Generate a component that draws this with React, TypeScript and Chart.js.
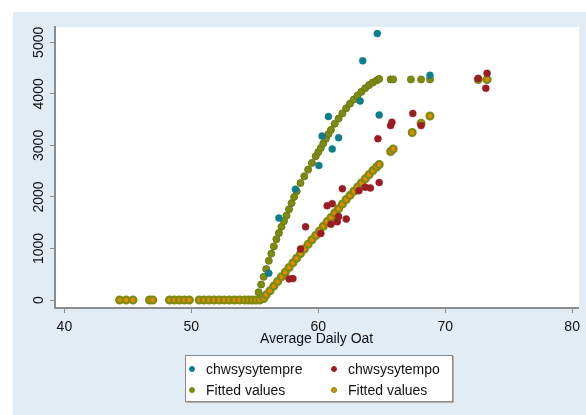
import React, { useEffect, useRef } from "react";
import { Chart, registerables } from "chart.js";

Chart.register(...registerables);

// ---- data ----
const xTicks = [40, 50, 60, 70, 80];
const yTicks = [0, 1000, 2000, 3000, 4000, 5000];
const xTitle = "Average Daily Oat";
const seriesNames = ["chwsysytempre", "chwsysytempo", "Fitted values", "Fitted values"];

// days with zero load (x values where both fitted curves are 0)
const zeroOat = [44.35, 44.87, 45.4, 46.7, 46.96, 48.28, 48.67, 49.06, 49.45, 49.84, 50.62, 51.0, 51.4, 51.8, 52.2, 52.6, 53.0, 53.4, 53.8, 54.2, 54.5, 54.8, 55.1];
const zeroKw = [0, 0, 0, 0, 0, 0, 0, 0, 0, 0, 0, 0, 0, 0, 0, 0, 0, 0, 0, 0, 0, 0, 0];

// observed chwsysytempre
const preOat = [56.1, 56.9, 58.2, 60.05, 60.3, 60.8, 61.1, 61.6, 63.3, 63.5, 64.65, 64.8, 68.8];
const preKw = [520, 1590, 2150, 2610, 3180, 3560, 2930, 3150, 3860, 4640, 5170, 3590, 4360];

// observed chwsysytempo
const poOat = [57.7, 58.0, 58.6, 59.0, 60.2, 60.7, 61.0, 61.1, 61.5, 61.6, 61.9, 62.2, 63.2, 63.7, 64.1, 64.7, 64.8, 65.7, 65.8, 67.45, 68.1, 72.6, 73.2, 73.3];
const poKw = [410, 415, 990, 1420, 1290, 1830, 1470, 1870, 1520, 1620, 2160, 1570, 2120, 2190, 2175, 3130, 2280, 3385, 3450, 3620, 3385, 4300, 4110, 4400];

// fitted values for chwsysytempre
const fit1Oat = [55.3, 55.5, 55.7, 55.9, 56.1, 56.3, 56.5, 56.7, 56.9, 57.1, 57.3, 57.5, 57.7, 57.9, 58.1, 58.3, 58.6, 58.9, 59.2, 59.5, 59.8, 60.0, 60.2, 60.4, 60.6, 60.8, 61.0, 61.3, 61.6, 61.9, 62.2, 62.5, 62.8, 63.1, 63.4, 63.7, 64.0, 64.3, 64.6, 64.8, 65.7, 65.9, 67.3, 68.1, 68.8, 72.6, 73.3];
const fit1Kw = [150, 300, 450, 600, 760, 900, 1040, 1180, 1300, 1420, 1530, 1640, 1760, 1880, 2000, 2110, 2270, 2400, 2530, 2660, 2790, 2870, 2950, 3040, 3130, 3220, 3300, 3420, 3520, 3620, 3720, 3810, 3890, 3970, 4040, 4110, 4170, 4220, 4260, 4290, 4280, 4280, 4280, 4280, 4280, 4280, 4280];

// fitted values for chwsysytempo
const fit2Oat = [55.4, 55.7, 55.9, 56.2, 56.5, 56.8, 57.1, 57.4, 57.7, 58.0, 58.3, 58.6, 58.9, 59.2, 59.5, 59.8, 60.1, 60.4, 60.7, 61.0, 61.3, 61.6, 61.9, 62.2, 62.5, 62.8, 63.1, 63.4, 63.7, 64.0, 64.3, 64.6, 64.8, 65.7, 65.9, 67.4, 68.1, 68.8, 72.6, 73.3];
const fit2Kw = [0, 30, 100, 180, 270, 360, 450, 540, 630, 720, 810, 900, 990, 1080, 1170, 1250, 1340, 1430, 1520, 1600, 1690, 1770, 1860, 1950, 2030, 2110, 2190, 2270, 2350, 2430, 2510, 2580, 2630, 2880, 2930, 3250, 3430, 3570, 4280, 4280];

// ---- styles ----
const FONT = "'Liberation Sans', Arial, Helvetica, sans-serif";
const TEAL = "#0f7d8c";
const MAROON = "#9a1c25";
const OLIVE = "#7e8b12";
const OLIVE_DARK = "#6c7810";
const ORANGE = "#e38a00";
const AXIS = "#8c8c8c";

const pts = (xs: number[], ys: number[]) => xs.map((x, i) => ({ x, y: ys[i] }));

const whiteArea = {
  id: "whiteArea",
  beforeDraw(chart: any) {
    const { ctx, chartArea } = chart;
    ctx.save();
    ctx.fillStyle = "#ffffff";
    ctx.fillRect(chartArea.left, chartArea.top, chartArea.right - chartArea.left + 1, chartArea.bottom - chartArea.top);
    ctx.restore();
  },
};

export default function App() {
  const ref = useRef<HTMLCanvasElement>(null);

  useEffect(() => {
    const canvas = ref.current;
    if (!canvas) return;
    const chart = new Chart(canvas, {
      type: "scatter",
      data: {
        datasets: [
          {
            label: seriesNames[0],
            data: pts(preOat, preKw),
            pointRadius: 3.5,
            pointBackgroundColor: TEAL,
            pointBorderColor: TEAL,
            pointBorderWidth: 0.5,
          },
          {
            label: seriesNames[1],
            data: pts(poOat, poKw),
            pointRadius: 3.5,
            pointBackgroundColor: MAROON,
            pointBorderColor: MAROON,
            pointBorderWidth: 0.5,
          },
          {
            label: seriesNames[3],
            data: pts(zeroOat.concat(fit2Oat), zeroKw.concat(fit2Kw)),
            pointRadius: 3.4,
            pointBackgroundColor: ORANGE,
            pointBorderColor: OLIVE,
            pointBorderWidth: 2.3,
          },
          {
            label: seriesNames[2],
            data: pts(zeroOat.concat(fit1Oat), zeroKw.concat(fit1Kw)),
            pointRadius: 3.5,
            pointBackgroundColor: OLIVE,
            pointBorderColor: OLIVE_DARK,
            pointBorderWidth: 1,
          },
        ],
      },
      options: {
        animation: false,
        responsive: false,
        devicePixelRatio: 1,
        layout: { padding: { left: 13, top: 27, right: 5, bottom: 60 } },
        plugins: { legend: { display: false }, tooltip: { enabled: false } },
        scales: {
          x: {
            type: "linear",
            min: 39.26,
            max: 80.47,
            afterBuildTicks: (s: any) => {
              s.ticks = xTicks.map((v) => ({ value: v }));
            },
            afterFit: (s: any) => {
              s.height = 47;
            },
            border: { display: true, color: AXIS, width: 2 },
            grid: { drawOnChartArea: false, drawTicks: true, tickLength: 5, color: AXIS, tickWidth: 1 },
            ticks: {
              color: "#111",
              font: { family: FONT, size: 14 },
              padding: 6,
              minRotation: 0,
              maxRotation: 0,
              callback: (v: any) => String(v),
            },
            title: {
              display: true,
              text: xTitle,
              color: "#111",
              font: { family: FONT, size: 14 },
              padding: { top: 0, bottom: 7.6 },
            },
          },
          y: {
            type: "linear",
            min: -155,
            max: 5297,
            afterBuildTicks: (s: any) => {
              s.ticks = yTicks.map((v) => ({ value: v }));
            },
            afterFit: (s: any) => {
              s.width = 42;
            },
            border: { display: true, color: AXIS, width: 2 },
            grid: { drawOnChartArea: false, drawTicks: true, tickLength: 5, color: AXIS, tickWidth: 1 },
            ticks: {
              color: "#111",
              font: { family: FONT, size: 14 },
              minRotation: 90,
              maxRotation: 90,
              crossAlign: "center",
              padding: -4.5,
              callback: (v: any) => String(v),
            },
          },
        },
      },
      plugins: [whiteArea],
    });
    return () => chart.destroy();
  }, []);

  const dot = (bg: string, border: string) => (
    <span
      style={{
        position: "absolute",
        width: 6,
        height: 6,
        borderRadius: "50%",
        background: bg,
        border: `1.5px solid ${border}`,
        boxSizing: "border-box",
        transform: "translate(-50%, -50%)",
      }}
    />
  );

  const legendItems = [
    { x: 192, y: 369, text: seriesNames[0], bg: TEAL, border: TEAL },
    { x: 334, y: 369, text: seriesNames[1], bg: MAROON, border: MAROON },
    { x: 192, y: 390, text: seriesNames[2], bg: OLIVE, border: OLIVE },
    { x: 334, y: 390, text: seriesNames[3], bg: ORANGE, border: OLIVE },
  ];

  return (
    <div style={{ position: "fixed", left: 0, top: 0, width: 586, height: 415, background: "#ffffff", overflow: "hidden" }}>
      <div style={{ position: "absolute", left: 13, top: 12, width: 573, height: 403, background: "#e2ecf4" }} />
      <canvas ref={ref} width={586} height={415} style={{ position: "absolute", left: 0, top: 0, width: 586, height: 415 }} />
      <div
        style={{
          position: "absolute",
          left: 185,
          top: 355,
          width: 268,
          height: 47,
          boxSizing: "border-box",
          background: "#ffffff",
          border: "1px solid #8a8a8a",
          boxShadow: "1px 1px 0 #b0b0b0",
        }}
      />
      {legendItems.map((it, i) => (
        <React.Fragment key={i}>
          <div style={{ position: "absolute", left: it.x, top: it.y }}>{dot(it.bg, it.border)}</div>
          <div
            style={{
              position: "absolute",
              left: it.x + 14,
              top: it.y - 9,
              height: 18,
              lineHeight: "18px",
              fontFamily: FONT,
              fontSize: 14,
              color: "#111",
              whiteSpace: "nowrap",
            }}
          >
            {it.text}
          </div>
        </React.Fragment>
      ))}
    </div>
  );
}
